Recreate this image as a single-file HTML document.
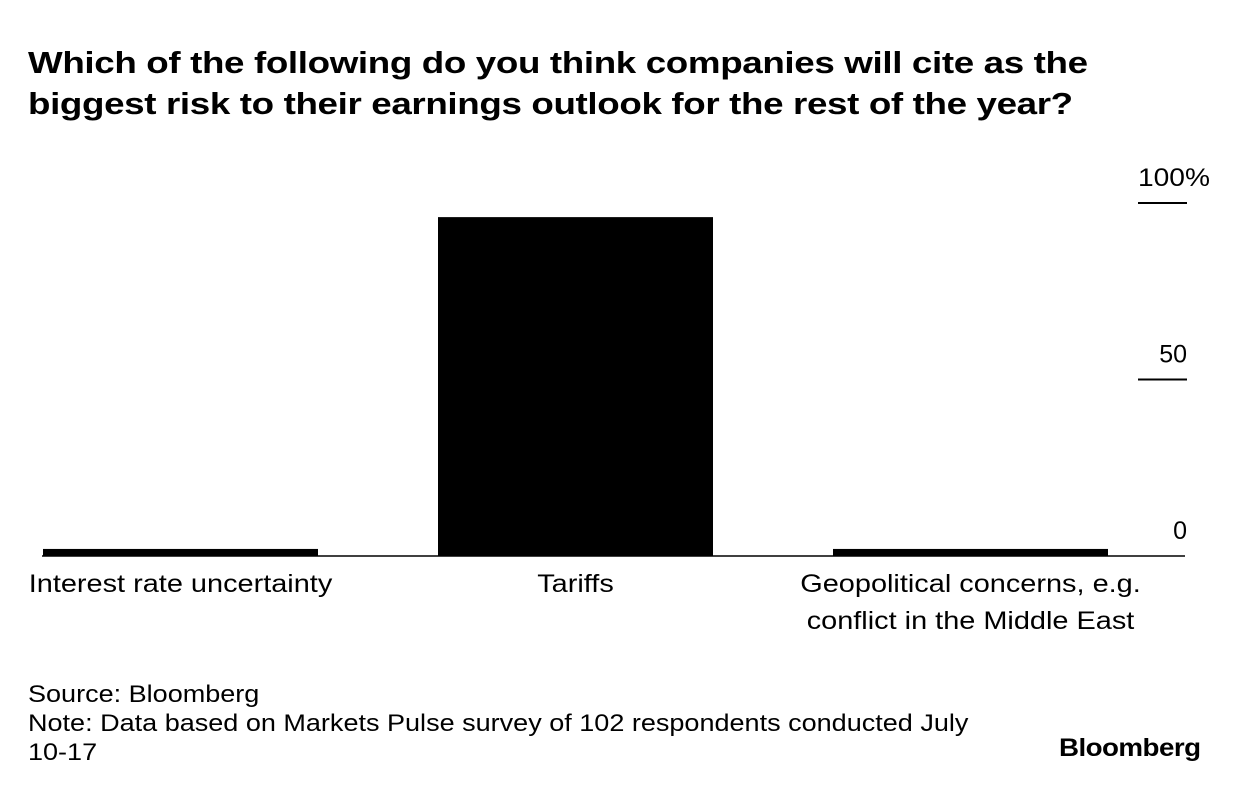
<!DOCTYPE html>
<html><head><meta charset="utf-8"><style>
body{margin:0;background:#fff;font-family:"Liberation Sans",Arial,sans-serif;}
#wrap{position:relative;width:1240px;height:794px;overflow:hidden;}
h1{position:absolute;left:28px;top:42px;margin:0;font-size:31px;line-height:41px;font-weight:bold;color:#000;letter-spacing:-0.3px;transform-origin:0 0;transform:scaleX(1.185);white-space:nowrap;}
.t{position:absolute;color:#000;font-size:25px;transform-origin:0 0;white-space:nowrap;}
</style></head><body>
<div id="wrap">
<h1>Which of the following do you think companies will cite as the<br>biggest risk to their earnings outlook for the rest of the year?</h1>
<svg id="svg" width="1240" height="794" style="position:absolute;left:0;top:0"></svg>
<div class="t" style="left:28px;top:680px;line-height:29px;font-size:24px;transform:scaleX(1.126)">Source: Bloomberg<br>Note: Data based on Markets Pulse survey of 102 respondents conducted July<br>10-17</div>
<div class="t" style="left:1059px;top:734px;font-weight:bold;font-size:25px;letter-spacing:-0.5px;transform:scaleX(1.11)">Bloomberg</div>
</div>
<script>
const categories=["Interest rate uncertainty","Tariffs","Geopolitical concerns, e.g.|conflict in the Middle East"];
const values=[2,96,2];
const ticks=[0,50,100];
const tickLabels=["0","50","100%"];
const svg=document.getElementById('svg');const NS='http://www.w3.org/2000/svg';
const y0=556,y100=203;
function y(v){return y0-(y0-y100)*v/100;}
function x(i){return 43+i*395;}
const bw=275;
ticks.forEach((t,i)=>{
 const l=document.createElementNS(NS,'line');
 
 
 l.setAttribute('x1',1138);l.setAttribute('x2',1187);l.setAttribute('y1',y(t));l.setAttribute('y2',y(t));
 l.setAttribute('stroke','#000');l.setAttribute('stroke-width',2);
 if(t!==0)svg.appendChild(l);
 const tx=document.createElementNS(NS,'text');
 
 
 const isPct=tickLabels[i].indexOf('%')>=0;
 tx.setAttribute('x',isPct?1138:1187);tx.setAttribute('y',y(t)-17);tx.setAttribute('text-anchor',isPct?'start':'end');
 tx.setAttribute('font-size',25);tx.setAttribute('font-family','Liberation Sans, sans-serif');
 if(isPct){tx.setAttribute('textLength',72);tx.setAttribute('lengthAdjust','spacingAndGlyphs');}
 tx.textContent=tickLabels[i];svg.appendChild(tx);
});
values.forEach((v,i)=>{
 const r=document.createElementNS(NS,'rect');
 
 
 r.setAttribute('x',x(i));r.setAttribute('width',bw);r.setAttribute('y',y(v));r.setAttribute('height',y0-y(v));
 r.setAttribute('fill','#000');svg.appendChild(r);
 const parts=categories[i].split('|');
 parts.forEach((p,j)=>{
  const tx=document.createElementNS(NS,'text');
  
  
  tx.setAttribute('transform','translate('+(x(i)+bw/2)+','+(592+j*37)+') scale(1.156,1)');
  tx.setAttribute('text-anchor','middle');
  tx.setAttribute('font-size',25);tx.setAttribute('font-family','Liberation Sans, sans-serif');
  tx.textContent=p;svg.appendChild(tx);
 });
});
const b=document.createElementNS(NS,'line');


b.setAttribute('x1',42);b.setAttribute('x2',1185);b.setAttribute('y1',y0);b.setAttribute('y2',y0);
b.setAttribute('stroke','#000');b.setAttribute('stroke-width',1.5);svg.appendChild(b);
</script>
</body></html>
